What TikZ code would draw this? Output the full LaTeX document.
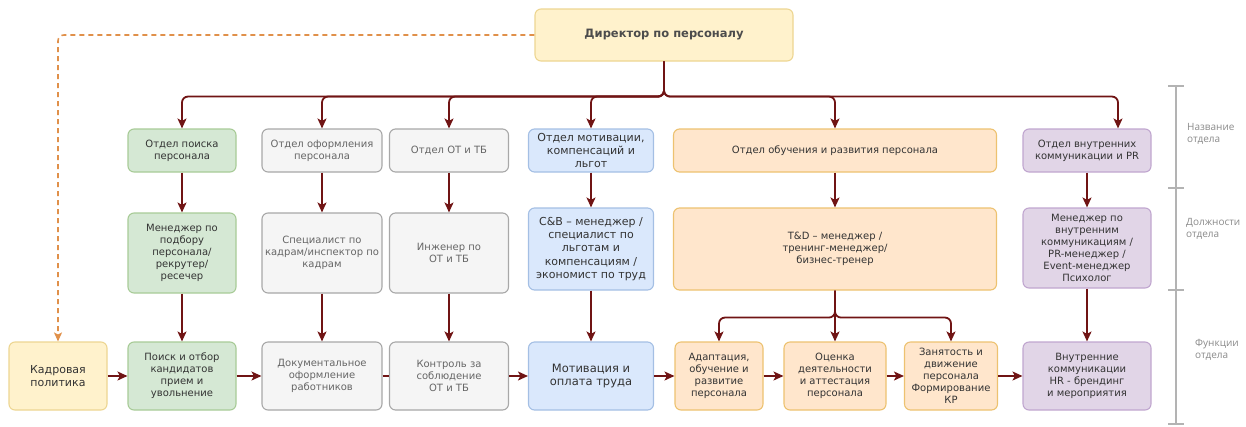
\documentclass[tikz,border=0pt]{standalone}
\usepackage{fontspec}
\setmainfont{DejaVu Sans}
\newfontfamily\lblfont{Open Sans}
\usetikzlibrary{arrows.meta}
\definecolor{arrc}{HTML}{701414}
\definecolor{dashc}{HTML}{E0904A}
\definecolor{txt}{HTML}{333333}
\definecolor{txtg}{HTML}{666666}
\definecolor{greenf}{HTML}{D5E8D4}\definecolor{greens}{HTML}{A8CB97}
\definecolor{grayf}{HTML}{F5F5F5}\definecolor{grays}{HTML}{A8A8A8}
\definecolor{bluef}{HTML}{DAE8FC}\definecolor{blues}{HTML}{A4BFE4}
\definecolor{orangef}{HTML}{FFE6CC}\definecolor{oranges}{HTML}{EDC270}
\definecolor{purplef}{HTML}{E1D5E7}\definecolor{purples}{HTML}{C0A6CF}
\definecolor{yellowf}{HTML}{FFF2CC}\definecolor{yellows}{HTML}{EDD692}
\definecolor{scalec}{HTML}{B3B3B3}
\definecolor{lblc}{HTML}{8A8A8A}
\begin{document}
\begin{tikzpicture}[x=1pt,y=-1pt,
  box/.style={rounded corners=6pt,line width=1.1pt,align=center,inner sep=0pt,
    text=txt,font=\fontsize{10}{12}\selectfont},
  big/.style={font=\fontsize{11}{13.3}\selectfont},
  gbox/.style={box,fill=greenf,draw=greens},
  ybox/.style={box,fill=grayf,draw=grays,text=txtg},
  bbox/.style={box,fill=bluef,draw=blues},
  obox/.style={box,fill=orangef,draw=oranges},
  pbox/.style={box,fill=purplef,draw=purples},
  lbox/.style={box,fill=yellowf,draw=yellows},
  arr/.style={draw=arrc,line width=1.8pt,rounded corners=6pt,
    -{Stealth[length=10pt,width=9pt,inset=2.5pt]}},
  dsh/.style={draw=dashc,line width=1.6pt,dash pattern=on 5pt off 4pt,rounded corners=6pt,
    -{Stealth[length=9pt,width=8pt,inset=2pt]}},
  lbl/.style={anchor=west,align=left,text=lblc,font=\lblfont\fontsize{10}{12}\selectfont,inner sep=0pt}
]
\useasboundingbox (0,0) rectangle (1246,426);

% director
\node[lbox,minimum width=258pt,minimum height=52pt,text=black!70,font=\bfseries\fontsize{11.5}{13.5}\selectfont] (dir) at (664,35) {Директор по персоналу};

% row 1: departments
\node[gbox,minimum width=108pt,minimum height=43pt] (d1) at (182,150.5) {Отдел поиска\\персонала};
\node[ybox,minimum width=120pt,minimum height=43pt] (d2) at (322,150.5) {Отдел оформления\\персонала};
\node[ybox,minimum width=119pt,minimum height=43pt] (d3) at (449,150.5) {Отдел ОТ и ТБ};
\node[bbox,big,minimum width=125pt,minimum height=43pt] (d4) at (591,150.5) {Отдел мотивации,\\компенсаций и\\льгот};
\node[obox,minimum width=323pt,minimum height=43pt] (d5) at (835,150.5) {Отдел обучения и развития персонала};
\node[pbox,minimum width=128pt,minimum height=43pt] (d6) at (1087,150.5) {Отдел внутренних\\коммуникации и PR};

% row 2: positions
\node[gbox,minimum width=108pt,minimum height=80pt] (p1) at (182,253) {Менеджер по\\подбору\\персонала/\\рекрутер/\\ресечер};
\node[ybox,minimum width=120pt,minimum height=80pt] (p2) at (322,253) {Специалист по\\кадрам/инспектор по\\кадрам};
\node[ybox,minimum width=119pt,minimum height=80pt] (p3) at (449,253) {Инженер по\\ОТ и ТБ};
\node[bbox,big,minimum width=125pt,minimum height=82pt] (p4) at (591,249) {C\&B – менеджер /\\специалист по\\льготам и\\компенсациям /\\экономист по труд};
\node[obox,minimum width=323pt,minimum height=82pt] (p5) at (835,249) {T\&D – менеджер /\\тренинг-менеджер/\\бизнес-тренер};
\node[pbox,minimum width=128pt,minimum height=80pt] (p6) at (1087,248) {Менеджер по\\внутренним\\коммуникациям /\\PR-менеджер /\\Event-менеджер\\Психолог};

% row 3: functions
\node[lbox,big,minimum width=98pt,minimum height=68pt] (k) at (58,376) {Кадровая\\политика};
\node[gbox,minimum width=108pt,minimum height=68pt] (f1) at (182,376) {Поиск и отбор\\кандидатов\\прием и\\увольнение};
\node[ybox,minimum width=120pt,minimum height=68pt] (f2) at (322,376) {Документальное\\оформление\\работников};
\node[ybox,minimum width=119pt,minimum height=68pt] (f3) at (449,376) {Контроль за\\соблюдение\\ОТ и ТБ};
\node[bbox,minimum width=125pt,minimum height=68pt,font=\fontsize{11.5}{13.5}\selectfont] (f4) at (591,376) {Мотивация и\\оплата труда};
\node[obox,minimum width=88pt,minimum height=68pt] (f5) at (719,376) {Адаптация,\\обучение и\\развитие\\персонала};
\node[obox,minimum width=102pt,minimum height=68pt] (f6) at (835,376) {Оценка\\деятельности\\и аттестация\\персонала};
\node[obox,minimum width=93pt,minimum height=68pt] (f7) at (951,376) {Занятость и\\движение\\персонала\\Формирование\\КР};
\node[pbox,minimum width=128pt,minimum height=68pt] (f8) at (1087,376) {Внутренние\\коммуникации\\HR - брендинг\\и мероприятия};

% bus from director
\foreach \t in {d1,d2,d3,d4,d5}
  \draw[arr] (dir.south) -- ++(0,35) -| (\t.north);
\draw[arr] (dir.south) -- ++(0,35) -| ([xshift=31pt]d6.north);

% dashed policy link
\draw[dsh] (dir.west) -| (k.north);

% verticals
\foreach \a/\b in {d1/p1,d2/p2,d3/p3,d4/p4,d5/p5,d6/p6,p1/f1,p2/f2,p3/f3,p4/f4,p6/f8}
  \draw[arr] (\a.south) -- (\b.north);
\draw[arr] (p5.south) -- ++(0,27) -| (f5.north);
\draw[arr] (p5.south) -- ++(0,27) -| (f7.north);
\draw[arr] (p5.south) -- (f6.north);

% horizontal chain
\foreach \a/\b in {k/f1,f1/f2,f3/f4,f4/f5,f5/f6,f6/f7,f7/f8}
  \draw[arr] (\a.east) -- (\b.west);
\draw[draw=arrc,line width=1.8pt] (f2.east) -- (f3.west);

% scale on the right
\coordinate (s0) at (1176,86);
\coordinate (s1) at (1176,188);
\coordinate (s2) at (1176,290);
\coordinate (s3) at (1176,424);
\draw[scalec,line width=1.4pt] (s0) -- (s3);
\foreach \s in {s0,s1,s2,s3}
  \draw[scalec,line width=1.4pt] ([xshift=-8pt]\s) -- ([xshift=8pt]\s);
\node[lbl] (l1) at (1187,134) {Название\\отдела};
\node[lbl] (l2) at (1186,229) {Должности\\отдела};
\node[lbl] (l3) at (1195,350) {Функции\\отдела};
\end{tikzpicture}
\end{document}
